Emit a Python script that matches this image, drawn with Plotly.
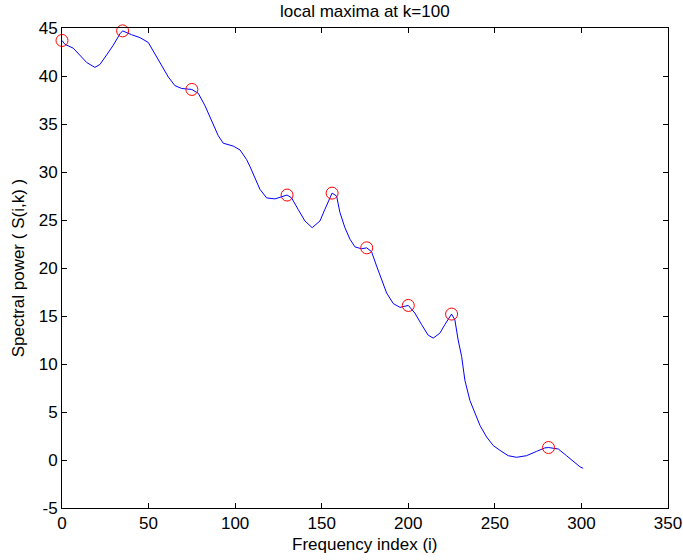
import plotly.graph_objects as go

# Curve samples (frequency index, spectral power)
freq_idx = [0, 1.7, 6.5, 10.4, 14.3, 19, 21.9, 25.8, 29.6, 33.5, 35, 40.2, 45, 49.8,
            53.7, 57.6, 61.4, 65.2, 69.1, 75, 78.7, 82.6, 86.4, 90.2, 93.1, 98.9,
            102.8, 106.6, 108.5, 111.4, 114.3, 118.2, 123, 130, 132.6, 136.4, 140.3,
            144.5, 149, 151.8, 154.7, 156, 158.6, 160.5, 163.4, 166.3, 169.2, 173,
            176, 178.8, 181.7, 184.6, 187.5, 191.3, 195.2, 200, 203.8, 207.7, 211.5,
            214.4, 218.2, 221.1, 225, 226.9, 228.8, 230.8, 232.7, 235.6, 238.5,
            241.4, 245.2, 249.1, 253, 257.7, 262.5, 268.3, 274.1, 278.9, 281,
            286.6, 291.4, 296.2, 299.1, 301]
power = [43.7, 43.3, 42.9, 42.2, 41.4, 40.9, 41.2, 42.2, 43.2, 44.4, 44.7, 44.3, 44.0,
         43.5, 42.3, 41.1, 39.9, 39.0, 38.7, 38.6, 38.2, 36.9, 35.4, 33.8, 33.0,
         32.7, 32.3, 31.3, 30.6, 29.3, 28.2, 27.3, 27.2, 27.6, 27.3, 26.1, 24.9,
         24.2, 24.9, 26.1, 27.3, 27.8, 27.5, 25.8, 24.2, 23.0, 22.2, 22.0, 22.1,
         21.7, 20.2, 18.8, 17.4, 16.3, 15.9, 16.1, 15.3, 14.1, 13.0, 12.7, 13.2,
         14.1, 15.2, 14.6, 12.5, 10.8, 8.3, 6.2, 4.8, 3.6, 2.4, 1.5, 1.0, 0.45,
         0.28, 0.45, 0.9, 1.26, 1.3, 1.15, 0.45, -0.24, -0.7, -0.87]

# Local maxima
max_idx = [0, 35, 75, 130, 156, 176, 200, 225, 281]
max_val = [43.7, 44.7, 38.6, 27.6, 27.8, 22.1, 16.1, 15.2, 1.3]

x_ticks = [0, 50, 100, 150, 200, 250, 300, 350]
y_ticks = [-5, 0, 5, 10, 15, 20, 25, 30, 35, 40, 45]

FS = 17

fig = go.Figure()
fig.add_trace(go.Scatter(x=freq_idx, y=power, mode="lines",
                         line=dict(color="#0000ff", width=1), showlegend=False))
fig.add_trace(go.Scatter(x=max_idx, y=max_val, mode="markers",
                         marker=dict(symbol="circle-open", size=12, color="#ff0000",
                                     line=dict(width=1, color="#ff0000")),
                         showlegend=False, cliponaxis=False))

axis_common = dict(showgrid=False, zeroline=False, showline=True, linecolor="black",
                   linewidth=1, mirror="ticks", ticks="inside", ticklen=5,
                   tickcolor="black", tickfont=dict(size=FS, color="black"),
                   automargin=False)

fig.update_layout(
    width=683, height=560,
    margin=dict(l=62, r=15, t=28, b=52),
    paper_bgcolor="white", plot_bgcolor="white",
    font=dict(family="Liberation Sans, Arial, sans-serif", color="black"),
    xaxis=dict(range=[0, 350], tickvals=x_ticks, ticktext=[str(v) for v in x_ticks],
               **axis_common),
    yaxis=dict(range=[-5, 45], tickvals=y_ticks, ticktext=[str(v) for v in y_ticks],
               **axis_common),
    annotations=[
        dict(text="local maxima at k=100", xref="paper", yref="paper", x=0.5, y=1.035,
             xanchor="center", yanchor="middle", showarrow=False,
             font=dict(size=FS, color="black")),
        dict(text="Frequency index (i)", xref="paper", yref="paper", x=0.5, y=-0.077,
             xanchor="center", yanchor="middle", showarrow=False,
             font=dict(size=FS, color="black")),
        dict(text="Spectral power ( S(i,k) )", xref="paper", yref="paper", x=-0.072,
             y=0.5, xanchor="center", yanchor="middle", showarrow=False, textangle=-90,
             font=dict(size=FS, color="black")),
    ],
)

fig.write_html("out.html", config={"displayModeBar": False},
               post_script="document.body.style.margin='0';document.body.style.overflow='hidden';")
